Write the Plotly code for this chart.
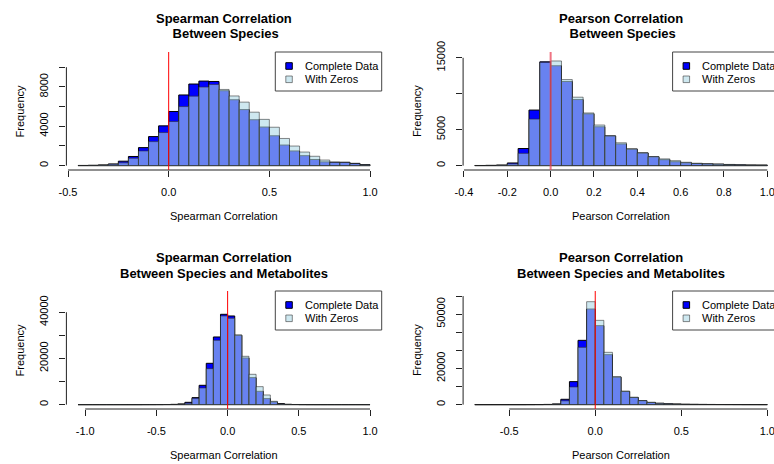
import numpy as np
import plotly.graph_objects as go

W, H = 774, 464
FONT = "Liberation Sans, Arial, Helvetica, sans-serif"

# ---------------- data ----------------
# bin width 0.05; first break of each histogram
tl_start = -0.45
tl_complete = [15, 30, 70, 170, 450, 930, 1830, 2950, 4040, 5500, 7180, 8290, 8590, 8550, 7610,
               6690, 5690, 4660, 3920, 3030, 2090, 1490, 1010, 620, 380, 350, 340, 230, 100]
tl_zeros = [20, 30, 60, 140, 280, 750, 1490, 2440, 3360, 4480, 6000, 7060, 7980, 8240, 7740,
            7080, 6450, 5430, 4700, 3900, 2760, 1990, 1380, 950, 570, 330, 320, 200, 80]

tr_start = -0.35
tr_complete = [20, 30, 70, 370, 2380, 7730, 14440, 13890, 11700, 9190, 7200, 5400, 4130, 3010,
               2300, 1760, 1220, 820, 540, 390, 300, 240, 200, 150, 110, 80, 70]
tr_zeros = [20, 40, 90, 240, 1710, 6480, 14350, 14560, 11970, 9520, 7330, 5650, 4150, 3180,
            2330, 1780, 1260, 940, 690, 470, 330, 260, 220, 170, 120, 90, 80]

bl_start = -1.05
bl_complete = [5, 5, 5, 5, 5, 5, 8, 10, 10, 15, 20, 30, 50,
               110, 300, 1000, 3030, 8370, 17890, 29290, 39100, 38380, 30010, 20200, 11690,
               5770, 2600, 1150, 430, 120, 50,
               20, 10, 8, 5, 5, 5, 5, 5, 5, 5]
bl_zeros = [5, 5, 5, 5, 5, 5, 5, 8, 10, 12, 15, 25, 40,
            80, 200, 580, 2600, 7220, 15580, 27850, 38380, 37370, 30160, 20920, 13130,
            7790, 4180, 1440, 300, 130, 60,
            30, 15, 10, 8, 5, 5, 5, 5, 5, 5]

br_start = -0.70
br_complete = [5, 5, 5, 5, 8, 10, 20, 50, 110,
               370, 2950, 12710, 35540, 52850, 43650, 27620, 15200, 7300, 3950, 2150, 1200,
               740, 480, 330, 200, 150, 110, 80, 60, 50, 40, 30, 20, 15]
br_zeros = [5, 5, 5, 5, 5, 8, 15, 30, 80,
            250, 2100, 9760, 31680, 56900, 46590, 28910, 15400, 7450, 4100, 2250, 1300,
            760, 500, 350, 220, 160, 120, 90, 70, 55, 45, 35, 25, 20]

BIN = 0.05

titles = [("Spearman Correlation", " Between Species"),
          ("Pearson Correlation", " Between Species"),
          ("Spearman Correlation", "Between Species and Metabolites"),
          ("Pearson Correlation", "Between Species and Metabolites")]
xlabels = ["Spearman Correlation", "Pearson Correlation",
           "Spearman Correlation", "Pearson Correlation"]

x_ticks = [[-0.5, 0.0, 0.5, 1.0],
           [-0.4, -0.2, 0.0, 0.2, 0.4, 0.6, 0.8, 1.0],
           [-1.0, -0.5, 0.0, 0.5, 1.0],
           [-0.5, 0.0, 0.5, 1.0]]
y_ticks = [[0, 2000, 4000, 6000, 8000, 10000],
           [0, 5000, 10000, 15000],
           [0, 10000, 20000, 30000, 40000],
           [0, 10000, 20000, 30000, 40000, 50000, 60000]]
y_ticktext = [["0", "", "4000", "", "8000", ""],
              ["0", "5000", "", "15000"],
              ["0", "", "20000", "", "40000"],
              ["0", "", "20000", "", "", "50000", ""]]
y_top = [11100, 15200, 47300, 60400]

legend_labels = ["Complete Data", "With Zeros"]

# ---------------- styling / geometry ----------------
COL_COMPLETE = "rgb(0,0,255)"
COL_ZEROS = "rgba(173,216,230,0.6)"
LINE_ZEROS = "rgba(40,40,40,0.55)"
AXCOL = "#222222"

cols = [(66.4, 381.7), (463.1, 779.0)]
rows = [(52.0, 170.0), (291.0, 409.0)]

panels = [
    dict(start=tl_start, c=tl_complete, z=tl_zeros, col=0, row=0),
    dict(start=tr_start, c=tr_complete, z=tr_zeros, col=1, row=0),
    dict(start=bl_start, c=bl_complete, z=bl_zeros, col=0, row=1),
    dict(start=br_start, c=br_complete, z=br_zeros, col=1, row=1),
]

def px(x):
    return x / W

def py(y):
    return 1 - y / H

fig = go.Figure()
shapes = []
annotations = []
layout = {}

for i, p in enumerate(panels):
    n = len(p["c"])
    lefts = np.round(p["start"] + BIN * np.arange(n), 4)
    centers = lefts + BIN / 2
    lo, hi = lefts[0], lefts[-1] + BIN
    ext = 0.04 * (hi - lo)
    r0, r1 = lo - ext, hi + ext
    cx0, cx1 = cols[p["col"]]
    ry0, ry1 = rows[p["row"]]
    # clip the plot region to the page width
    vis_x1 = min(cx1, W)
    r1_vis = r0 + (vis_x1 - cx0) / (cx1 - cx0) * (r1 - r0)

    sfx = "" if i == 0 else str(i + 1)
    xa, ya = "x" + sfx, "y" + sfx

    fig.add_trace(go.Bar(x=centers, y=p["c"], width=BIN, xaxis=xa, yaxis=ya,
                         name=legend_labels[0], showlegend=False,
                         marker=dict(color=COL_COMPLETE, line=dict(color="black", width=1))))
    fig.add_trace(go.Bar(x=centers, y=p["z"], width=BIN, xaxis=xa, yaxis=ya,
                         name=legend_labels[1], showlegend=False,
                         marker=dict(color=COL_ZEROS, line=dict(color=LINE_ZEROS, width=1))))

    Y = y_top[i]
    layout["xaxis" + sfx] = dict(
        domain=[px(cx0), px(vis_x1)], anchor=ya, range=[r0, r1_vis],
        showgrid=False, zeroline=False, showline=False, ticks="outside", ticklen=6,
        tickwidth=1, tickcolor=AXCOL, tickvals=x_ticks[i],
        ticktext=[f"{v:.1f}" for v in x_ticks[i]],
        tickfont=dict(family=FONT, size=11, color="black"), ticklabelstandoff=6,
        ticklabeloverflow="allow", automargin=False, fixedrange=True)
    layout["yaxis" + sfx] = dict(
        domain=[py(ry1), py(ry0)], anchor=xa, range=[-0.04 * Y, 1.04 * Y],
        showgrid=False, zeroline=False, showline=False, ticks="outside", ticklen=6,
        tickwidth=1, tickcolor=AXCOL, tickvals=y_ticks[i], ticktext=y_ticktext[i],
        tickangle=-90, tickfont=dict(family=FONT, size=11, color="black"),
        ticklabelstandoff=7, ticklabeloverflow="allow", automargin=False, fixedrange=True)

    # axis lines spanning first..last tick (R style)
    shapes.append(dict(type="line", xref=xa, yref=ya + " domain",
                       x0=x_ticks[i][0], x1=x_ticks[i][-1], y0=0, y1=0,
                       line=dict(color=AXCOL, width=1)))
    shapes.append(dict(type="line", xref=xa + " domain", yref=ya,
                       x0=0, x1=0, y0=y_ticks[i][0], y1=y_ticks[i][-1],
                       line=dict(color=AXCOL, width=1)))
    # red reference line at 0
    if i == 1:
        red = dict(color="rgba(235,70,90,0.75)", width=2)
    else:
        red = dict(color="rgb(255,0,0)", width=1)
    shapes.append(dict(type="line", xref=xa, yref=ya + " domain", x0=0, x1=0, y0=0, y1=1,
                       line=red))

    # titles
    cxm = (cx0 + cx1) / 2
    t1y, t2y = (18, 33.5) if p["row"] == 0 else (257, 273)
    for txt, yy in zip(titles[i], (t1y, t2y)):
        annotations.append(dict(text="<b>" + txt + "</b>", x=px(cxm), y=py(yy), xref="paper",
                                yref="paper", showarrow=False, xanchor="center", yanchor="middle",
                                font=dict(family=FONT, size=13, color="black")))
    # x label
    annotations.append(dict(text=xlabels[i], x=px(cxm), y=py(ry1 + 46), xref="paper",
                            yref="paper", showarrow=False, xanchor="center", yanchor="middle",
                            font=dict(family=FONT, size=11, color="black")))
    # y label
    annotations.append(dict(text="Frequency", x=px(cx0 - 46), y=py((ry0 + ry1) / 2),
                            xref="paper", yref="paper", showarrow=False, textangle=-90,
                            xanchor="center", yanchor="middle",
                            font=dict(family=FONT, size=11, color="black")))

    # legend box
    bx0 = cx1 - 106.4
    shapes.append(dict(type="rect", xref="paper", yref="paper",
                       x0=px(bx0), x1=px(cx1), y0=py(ry0 + 39), y1=py(ry0),
                       line=dict(color="#444444", width=1), fillcolor="white"))
    for k, (lab, fc, lc) in enumerate(zip(legend_labels, [COL_COMPLETE, COL_ZEROS],
                                          ["black", LINE_ZEROS])):
        ey = ry0 + 14 + 13.3 * k
        shapes.append(dict(type="rect", xref="paper", yref="paper",
                           x0=px(bx0 + 10.5), x1=px(bx0 + 17), y0=py(ey + 3.3), y1=py(ey - 3.3),
                           line=dict(color=lc, width=1), fillcolor=fc))
        annotations.append(dict(text=lab, x=px(bx0 + 27.5), y=py(ey), xref="paper",
                                yref="paper", showarrow=False, xanchor="left",
                                yanchor="middle",
                                font=dict(family=FONT, size=11, color="black")))

fig.update_layout(
    width=W, height=H, margin=dict(l=0, r=0, t=0, b=0),
    paper_bgcolor="white", plot_bgcolor="white", barmode="overlay", bargap=0,
    showlegend=False, shapes=shapes, annotations=annotations, **layout)

fig.write_html("out.html", config={"displayModeBar": False, "staticPlot": True},
               post_script="document.body.style.margin='0';document.body.style.overflow='hidden';")
